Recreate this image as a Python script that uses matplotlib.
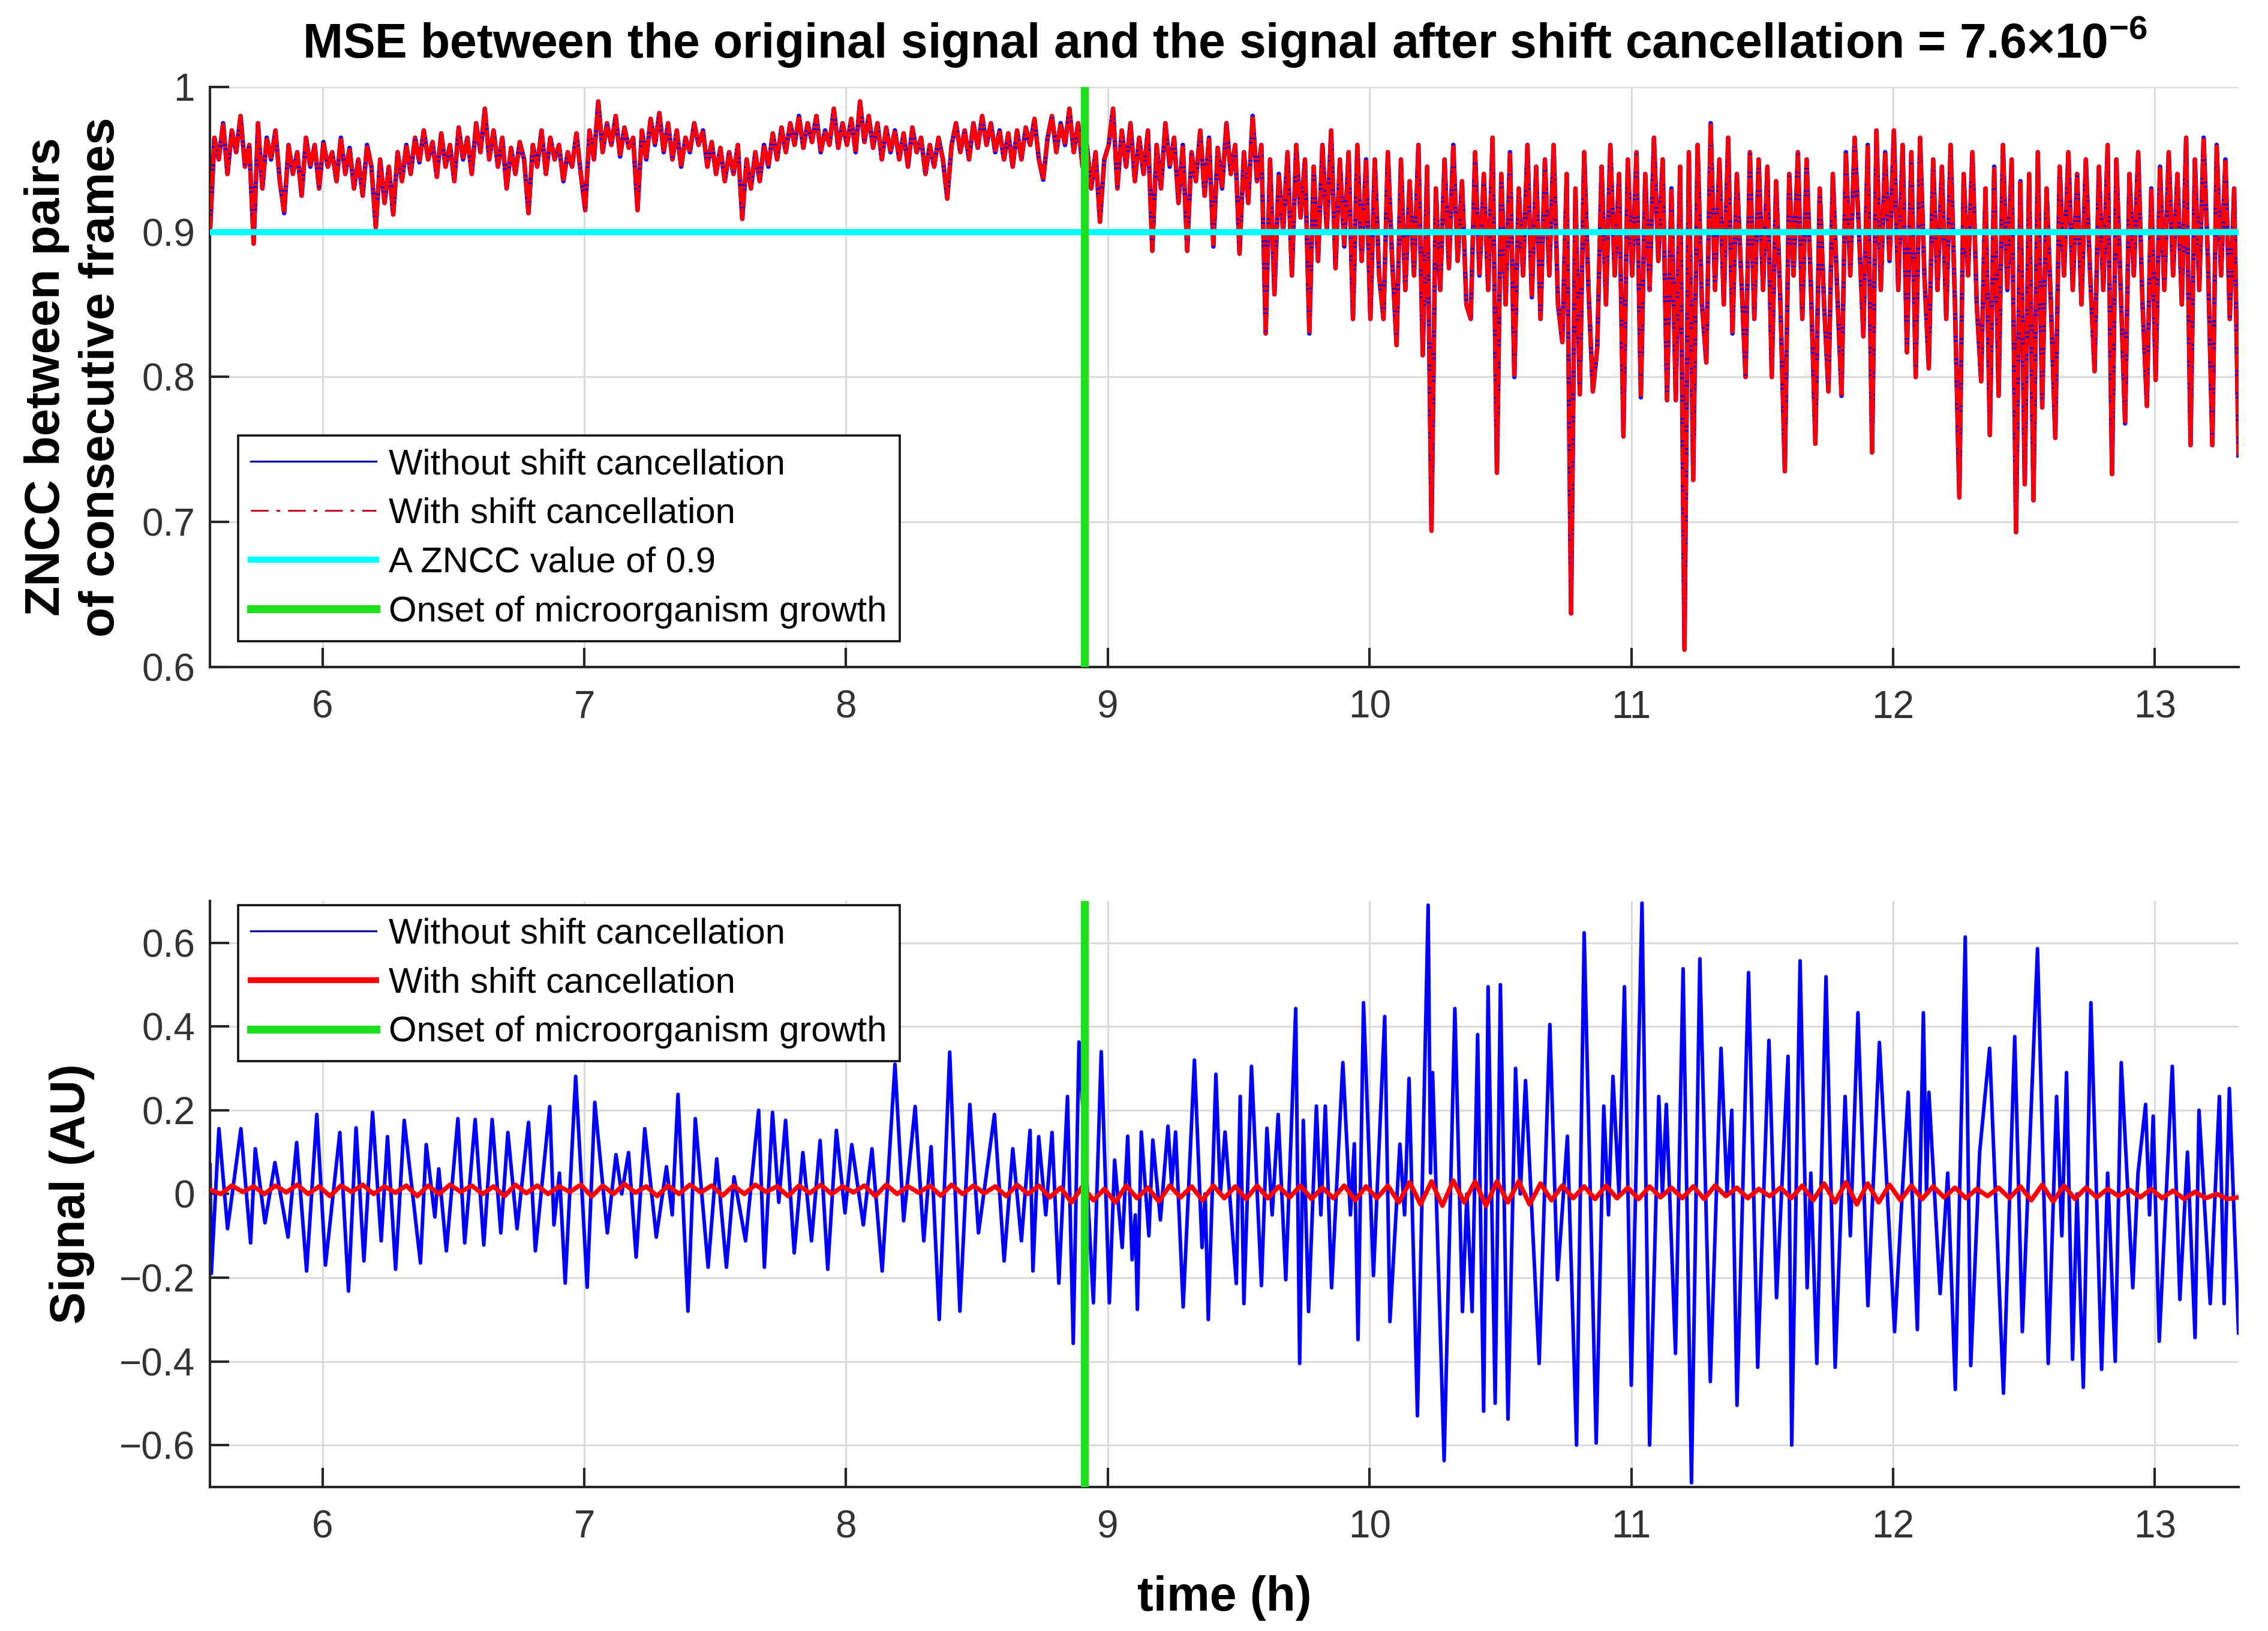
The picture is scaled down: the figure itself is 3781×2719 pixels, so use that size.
import numpy as np
import matplotlib
matplotlib.use('Agg')
import matplotlib.pyplot as plt
from matplotlib.lines import Line2D

plt.rcParams['font.family'] = ['Liberation Sans', 'DejaVu Sans']
plt.rcParams['mathtext.fontset'] = 'custom'
plt.rcParams['mathtext.rm'] = 'Liberation Sans'
plt.rcParams['mathtext.bf'] = 'Liberation Sans:bold'

# ---------------- data ----------------
T_START = 5.57          # h, first frame
ZNCC_RATE = 60          # samples per hour
SHIFT_RATE = 24         # samples per hour (shift-cancelled signal)
ONSET = 8.91            # h, onset of microorganism growth
ZNCC_LEVEL = 0.9

zncc_without = [
    # 5.57 - 5.99
    0.90, 0.965, 0.95, 0.975, 0.94, 0.97, 0.955, 0.98, 0.945, 0.96,
    0.892, 0.975, 0.93, 0.965, 0.95, 0.97, 0.935, 0.913, 0.96, 0.94,
    0.955, 0.925, 0.965, 0.945, 0.96, 0.93,
    # 6.0 - 6.99
    0.962, 0.945, 0.955, 0.935, 0.965, 0.94, 0.958, 0.93, 0.95, 0.925,
    0.96, 0.945, 0.903, 0.95, 0.92, 0.945, 0.912, 0.955, 0.935, 0.96,
    0.94, 0.965, 0.948, 0.97, 0.95, 0.962, 0.938, 0.968, 0.945, 0.96,
    0.935, 0.972, 0.95, 0.965, 0.94, 0.975, 0.955, 0.985, 0.95, 0.97,
    0.945, 0.965, 0.93, 0.958, 0.94, 0.962, 0.95, 0.913, 0.96, 0.945,
    0.97, 0.94, 0.965, 0.95, 0.96, 0.935, 0.955, 0.945, 0.968, 0.94,
    # 7.0 - 7.99
    0.915, 0.97, 0.95, 0.99, 0.955, 0.975, 0.96, 0.98, 0.952, 0.972,
    0.958, 0.965, 0.915, 0.97, 0.95, 0.978, 0.96, 0.982, 0.955, 0.975,
    0.95, 0.97, 0.945, 0.965, 0.955, 0.975, 0.96, 0.97, 0.945, 0.962,
    0.94, 0.958, 0.935, 0.955, 0.94, 0.96, 0.909, 0.95, 0.93, 0.955,
    0.935, 0.96, 0.945, 0.968, 0.95, 0.972, 0.955, 0.975, 0.96, 0.98,
    0.958, 0.975, 0.962, 0.98, 0.955, 0.97, 0.96, 0.985, 0.958, 0.975,
    # 8.0 - 8.99
    0.96, 0.978, 0.955, 0.99, 0.962, 0.98, 0.958, 0.975, 0.95, 0.972,
    0.955, 0.97, 0.95, 0.968, 0.945, 0.972, 0.955, 0.965, 0.94, 0.96,
    0.945, 0.965, 0.95, 0.923, 0.96, 0.975, 0.955, 0.97, 0.95, 0.975,
    0.958, 0.98, 0.96, 0.975, 0.955, 0.97, 0.95, 0.968, 0.945, 0.97,
    0.95, 0.972, 0.96, 0.978, 0.95, 0.936, 0.965, 0.98, 0.955, 0.975,
    0.96, 0.985, 0.955, 0.975, 0.945, 0.96, 0.93, 0.955, 0.907, 0.95,
    # 9.0 - 9.99
    0.96, 0.985, 0.93, 0.97, 0.945, 0.975, 0.935, 0.965, 0.94, 0.97,
    0.887, 0.96, 0.93, 0.975, 0.945, 0.965, 0.92, 0.96, 0.887, 0.955,
    0.935, 0.97, 0.925, 0.965, 0.89, 0.958, 0.93, 0.975, 0.94, 0.96,
    0.885, 0.955, 0.92, 0.98, 0.935, 0.96, 0.83, 0.95, 0.857, 0.94,
    0.90, 0.955, 0.87, 0.96, 0.91, 0.95, 0.83, 0.945, 0.88, 0.96,
    0.90, 0.97, 0.875, 0.95, 0.89, 0.955, 0.84, 0.96, 0.88, 0.95,
    # 10.0 - 10.99
    0.84, 0.95, 0.87, 0.84, 0.955, 0.88, 0.822, 0.95, 0.86, 0.935,
    0.87, 0.96, 0.815, 0.945, 0.694, 0.93, 0.86, 0.95, 0.875, 0.96,
    0.88, 0.935, 0.85, 0.84, 0.955, 0.87, 0.94, 0.86, 0.965, 0.734,
    0.94, 0.85, 0.955, 0.80, 0.93, 0.87, 0.96, 0.855, 0.945, 0.84,
    0.95, 0.87, 0.96, 0.85, 0.824, 0.94, 0.637, 0.93, 0.788, 0.955,
    0.86, 0.79, 0.82, 0.945, 0.85, 0.96, 0.87, 0.94, 0.759, 0.95,
    # 11.0 - 11.99
    0.87, 0.955, 0.786, 0.94, 0.86, 0.965, 0.88, 0.95, 0.784, 0.93,
    0.784, 0.945, 0.612, 0.955, 0.729, 0.96, 0.85, 0.81, 0.975, 0.86,
    0.95, 0.85, 0.965, 0.83, 0.94, 0.87, 0.80, 0.955, 0.84, 0.95,
    0.86, 0.945, 0.80, 0.935, 0.85, 0.735, 0.94, 0.87, 0.955, 0.84,
    0.95, 0.86, 0.754, 0.93, 0.85, 0.79, 0.94, 0.86, 0.787, 0.955,
    0.87, 0.965, 0.90, 0.828, 0.96, 0.748, 0.97, 0.86, 0.955, 0.88,
    # 12.0 - 12.99
    0.97, 0.86, 0.96, 0.817, 0.955, 0.80, 0.965, 0.87, 0.806, 0.95,
    0.86, 0.945, 0.84, 0.96, 0.85, 0.717, 0.94, 0.87, 0.955, 0.85,
    0.797, 0.93, 0.76, 0.945, 0.787, 0.96, 0.86, 0.95, 0.693, 0.935,
    0.726, 0.94, 0.715, 0.955, 0.779, 0.93, 0.85, 0.758, 0.945, 0.87,
    0.955, 0.86, 0.94, 0.85, 0.95, 0.87, 0.804, 0.945, 0.86, 0.96,
    0.733, 0.95, 0.86, 0.768, 0.94, 0.87, 0.955, 0.85, 0.78, 0.93,
    # 13.0 - 13.32
    0.798, 0.945, 0.86, 0.955, 0.87, 0.94, 0.85, 0.965, 0.753, 0.95,
    0.86, 0.965, 0.88, 0.753, 0.96, 0.87, 0.95, 0.84, 0.93, 0.746,
]
# after shift cancellation the ZNCC curve is visually identical
zncc_with = list(zncc_without)

# signal without shift cancellation: (time [h], value [AU]) vertices
sig_time = [
    5.570, 5.575, 5.604, 5.637, 5.688, 5.725, 5.743, 5.780, 5.818, 5.868,
    5.901, 5.939, 5.978, 6.011, 6.066, 6.099, 6.128, 6.158, 6.191, 6.224,
    6.248, 6.279, 6.312, 6.374, 6.396, 6.429, 6.444, 6.473, 6.517, 6.543,
    6.583, 6.616, 6.648, 6.681, 6.708, 6.743, 6.787, 6.813, 6.868, 6.884,
    6.905, 6.927, 6.967, 7.011, 7.040, 7.088, 7.121, 7.143, 7.169, 7.198,
    7.231, 7.275, 7.314, 7.336, 7.358, 7.396, 7.424, 7.473, 7.506, 7.543,
    7.572, 7.616, 7.666, 7.688, 7.719, 7.743, 7.769, 7.802, 7.835, 7.868,
    7.901, 7.930, 7.963, 7.996, 8.022, 8.066, 8.099, 8.138, 8.187, 8.220,
    8.264, 8.297, 8.325, 8.356, 8.396, 8.435, 8.473, 8.506, 8.567, 8.604,
    8.637, 8.670, 8.703, 8.714, 8.736, 8.763, 8.787, 8.813, 8.846, 8.868,
    8.890, 8.923, 8.945, 8.975,
    9.006, 9.026, 9.055, 9.076, 9.093, 9.105, 9.113, 9.128, 9.157, 9.172,
    9.201, 9.230, 9.244, 9.259, 9.288, 9.331, 9.360, 9.372, 9.384, 9.413,
    9.430, 9.448, 9.491, 9.506, 9.520, 9.549, 9.587, 9.608, 9.628, 9.651,
    9.680, 9.718, 9.733, 9.747, 9.767, 9.797, 9.814, 9.831, 9.855, 9.898,
    9.927, 9.942, 9.956, 9.977, 10.015, 10.058, 10.078, 10.116, 10.134, 10.151,
    10.183, 10.224, 10.233, 10.241, 10.285, 10.326, 10.355, 10.372, 10.392, 10.413,
    10.436, 10.453, 10.480, 10.500, 10.529, 10.558, 10.576, 10.596, 10.648, 10.689,
    10.718, 10.756, 10.791, 10.820, 10.866, 10.895, 10.913, 10.930, 10.953, 10.974,
    11.000, 11.041, 11.070, 11.105, 11.119, 11.134, 11.169, 11.198, 11.230, 11.262,
    11.302, 11.343, 11.366, 11.384, 11.404, 11.448, 11.483, 11.526, 11.555, 11.599,
    11.613, 11.645, 11.672, 11.686, 11.709, 11.744, 11.779, 11.817, 11.837, 11.866,
    11.904, 11.948, 12.006, 12.035, 12.058, 12.093, 12.116, 12.128, 12.137, 12.180,
    12.209, 12.238, 12.276, 12.297, 12.331, 12.369, 12.422, 12.465, 12.494, 12.552,
    12.593, 12.625, 12.645, 12.663, 12.686, 12.703, 12.727, 12.756, 12.797, 12.820,
    12.849, 12.872, 12.916, 12.936, 12.965, 12.980, 12.994, 13.017, 13.067, 13.096,
    13.125, 13.154, 13.169, 13.212, 13.247, 13.265, 13.285, 13.320, 13.330,
]
sig_without = [
    0.07, -0.19, 0.156, -0.083, 0.156, -0.117, 0.108, -0.069, 0.075, -0.103,
    0.123, -0.184, 0.19, -0.17, 0.147, -0.232, 0.158, -0.16, 0.195, -0.112,
    0.137, -0.18, 0.176, -0.165, 0.118, -0.055, 0.06, -0.136, 0.18, -0.117,
    0.178, -0.122, 0.178, -0.093, 0.147, -0.083, 0.171, -0.136, 0.209, -0.074,
    0.05, -0.213, 0.281, -0.223, 0.219, -0.093, 0.094, 0.0, 0.099, -0.151,
    0.156, -0.103, 0.065, -0.05, 0.238, -0.28, 0.18, -0.175, 0.084, -0.175,
    0.041, -0.112, 0.2, -0.175, 0.195, -0.02, 0.176, -0.141, 0.099, -0.112,
    0.128, -0.18, 0.152, -0.045, 0.118, -0.074, 0.108, -0.184, 0.31, -0.064,
    0.209, -0.112, 0.113, -0.3, 0.339, -0.28, 0.214, -0.093, 0.19, -0.16,
    0.108, -0.112, 0.152, -0.184, 0.137, -0.05, 0.147, -0.213, 0.233, -0.357,
    0.363, 0.0, -0.26, 0.34,
    -0.26, 0.081, -0.128, 0.138, -0.157, -0.05, -0.276, 0.148, -0.10, 0.129,
    -0.062, 0.162, 0.02, 0.148, -0.27, 0.32, -0.128, 0.0, -0.30, 0.286,
    0.0, 0.148, -0.214, 0.233, -0.262, 0.305, -0.219, 0.157, -0.05, 0.19,
    -0.205, 0.443, -0.405, 0.176, -0.281, 0.21, -0.05, 0.21, -0.224, 0.314,
    -0.05, 0.12, -0.348, 0.457, -0.195, 0.424, -0.305, 0.119, -0.05, 0.276,
    -0.53, 0.69, 0.05, 0.29, -0.637, 0.443, -0.281, 0.0, -0.281, 0.381,
    -0.519, 0.495, -0.50, 0.50, -0.538, 0.30, 0.0, 0.271, -0.405, 0.405,
    -0.205, 0.138, -0.60, 0.624, -0.595, 0.21, -0.05, 0.281, 0.0, 0.495,
    -0.457, 0.695, -0.60, 0.233, 0.0, 0.214, -0.381, 0.538, -0.69, 0.562,
    -0.448, 0.348, 0.0, 0.20, -0.505, 0.529, -0.414, 0.367, -0.248, 0.329,
    -0.60, 0.557, -0.224, 0.05, -0.405, 0.519, -0.414, 0.233, -0.10, 0.433,
    -0.267, 0.362, -0.329, 0.0, 0.243, -0.324, 0.433, 0.0, 0.243, -0.238,
    0.05, -0.467, 0.614, -0.41, 0.10, 0.348, -0.476, 0.376, -0.329, 0.586,
    -0.405, 0.233, -0.10, 0.29, -0.395, 0.0, -0.462, 0.457, -0.419, 0.05,
    -0.40, 0.314, -0.224, 0.05, 0.214, -0.05, 0.186, -0.352, 0.305, -0.252,
    0.10, -0.343, 0.20, -0.262, 0.233, -0.262, 0.252, -0.333, -0.18,
]

sig_with = [
    0.01, 0.0, 0.02, 0.005, 0.018, 0.0, 0.02, 0.004, 0.022, 0.0, 0.018, -0.005,
    0.02, 0.005, 0.022, 0.0, 0.018, 0.003, 0.02, -0.005, 0.02, 0.0, 0.022, 0.005,
    0.02, 0.0, 0.018, -0.005, 0.022, 0.002, 0.02, 0.0, 0.018, 0.005, 0.022, -0.006,
    0.02, 0.0, 0.024, 0.003, 0.018, -0.005, 0.02, 0.0, 0.022, 0.004, 0.02, -0.004,
    0.02, 0.0, 0.022, 0.005, 0.018, -0.005, 0.02, 0.002, 0.022, 0.0, 0.018, 0.004,
    0.02, -0.005, 0.022, 0.0, 0.018, 0.003, 0.02, -0.004, 0.022, 0.0, 0.02, 0.002,
    0.018, -0.005, 0.022, 0.0, 0.02, -0.008, 0.015, -0.02, 0.018, -0.015, 0.012, -0.02,
    0.02, -0.01, 0.015, -0.018, 0.02, -0.008, 0.018, -0.015, 0.02, -0.01, 0.018, -0.012,
    0.02, -0.01, 0.018, -0.008, 0.02, -0.012, 0.015, -0.01, 0.02, -0.015, 0.018, -0.01,
    0.02, -0.02, 0.028, -0.025, 0.03, -0.028, 0.032, -0.02, 0.03, -0.028, 0.03, -0.02,
    0.03, -0.025, 0.025, -0.015, 0.02, -0.01, 0.018, -0.012, 0.02, -0.01, 0.015, -0.012,
    0.018, -0.008, 0.015, -0.01, 0.018, -0.012, 0.02, -0.005, 0.015, -0.01, 0.012, -0.005,
    0.015, -0.01, 0.02, -0.015, 0.025, -0.02, 0.028, -0.025, 0.025, -0.02, 0.022, -0.015,
    0.02, -0.012, 0.018, -0.008, 0.015, -0.01, 0.012, -0.005, 0.015, -0.01, 0.018, -0.015,
    0.022, -0.018, 0.02, -0.012, 0.015, -0.008, 0.012, -0.005, 0.01, -0.008, 0.012, -0.01,
    0.008, -0.012, 0.005, -0.01, 0.0, -0.012, -0.008,
]

x_ticks = [6, 7, 8, 9, 10, 11, 12, 13]
top_yticks = [0.6, 0.7, 0.8, 0.9, 1.0]
top_ylabels = ['0.6', '0.7', '0.8', '0.9', '1']
bot_yticks = [-0.6, -0.4, -0.2, 0.0, 0.2, 0.4, 0.6]
bot_ylabels = ['\u22120.6', '\u22120.4', '\u22120.2', '0', '0.2', '0.4', '0.6']

t_zncc = T_START + np.arange(len(zncc_without)) / ZNCC_RATE
t_shift = T_START + np.arange(len(sig_with)) / SHIFT_RATE

# ---------------- style ----------------
BLUE = '#0000ff'
RED = '#ff0000'
CYAN = '#00ffff'
GREEN = '#1fe01f'
TICK_FS = 46
LAB_FS = 58
LEG_FS = 43

LBL_BLUE = 'Without shift cancellation'
LBL_RED = 'With shift cancellation'
LBL_CYAN = 'A ZNCC value of 0.9'
LBL_GREEN = 'Onset of microorganism growth'

fig = plt.figure(figsize=(37.81, 27.19), dpi=100)
ax1 = fig.add_axes([0.0926, 0.591, 0.8944, 0.3557])
ax2 = fig.add_axes([0.0926, 0.0883, 0.8944, 0.3593])

for ax in (ax1, ax2):
    for s in ('top', 'right'):
        ax.spines[s].set_visible(False)
    for s in ('left', 'bottom'):
        ax.spines[s].set_linewidth(3)
        ax.spines[s].set_color('#262626')
    ax.tick_params(direction='in', length=23, width=3, labelsize=TICK_FS,
                   labelcolor='#333333', color='#262626')
    ax.tick_params(axis='x', pad=27)
    ax.tick_params(axis='y', pad=18)
    ax.grid(True, color='#dadada', linewidth=2.2)
    ax.set_axisbelow(True)
    ax.set_xlim(5.57, 13.32)
    ax.set_xticks(x_ticks)
    ax.set_xticklabels([str(v) for v in x_ticks])

legend_kw = dict(fontsize=LEG_FS, handlelength=3.5, handletextpad=0.35,
                 labelspacing=0.45, borderpad=0.35, fancybox=False, framealpha=1,
                 borderaxespad=0)

# ---- top panel ----
ax1.plot(t_zncc, zncc_without, color=BLUE, lw=5.4, zorder=2)
ax1.plot(t_zncc, zncc_with, color=RED, lw=5.0, linestyle=(0, (4, 0.35, 0.7, 0.35)), zorder=3)
ax1.axhline(ZNCC_LEVEL, color=CYAN, lw=7.5, zorder=4)
ax1.axvline(ONSET, color=GREEN, lw=9.5, zorder=5)
ax1.set_ylim(0.6, 1.0)
ax1.set_yticks(top_yticks)
ax1.set_yticklabels(top_ylabels)
ax1.set_ylabel('ZNCC between pairs\nof consecutive frames', fontsize=LAB_FS + 1,
               fontweight='bold', va='center', linespacing=1.25)
ax1.yaxis.set_label_coords(-0.067, 0.5)
h1 = [Line2D([], [], color='#1010a0', lw=2.4),
      Line2D([], [], color='#c01020', lw=2.2, linestyle=(0, (9.6, 4.3, 2, 4.3))),
      Line2D([], [], color=CYAN, lw=7.5),
      Line2D([], [], color=GREEN, lw=9.5)]
leg1 = ax1.legend(h1, [LBL_BLUE, LBL_RED, LBL_CYAN, LBL_GREEN], loc='lower left',
                  bbox_to_anchor=(0.014, 0.045), **legend_kw)
leg1.get_frame().set_edgecolor('#111111')
leg1.get_frame().set_linewidth(2.6)

# ---- bottom panel ----
ax2.plot(sig_time, sig_without, color=BLUE, lw=4.3, zorder=2)
ax2.plot(t_shift, sig_with, color=RED, lw=5.5, zorder=3)
ax2.axvline(ONSET, color=GREEN, lw=9.5, zorder=5)
ax2.set_ylim(-0.7, 0.7)
ax2.set_yticks(bot_yticks)
ax2.set_yticklabels(bot_ylabels)
ax2.set_ylabel('Signal (AU)', fontsize=LAB_FS, fontweight='bold', va='center')
ax2.yaxis.set_label_coords(-0.068, 0.5)
ax2.set_xlabel('time (h)', fontsize=LAB_FS, fontweight='bold', va='center')
ax2.xaxis.set_label_coords(0.5, -0.189)
h2 = [Line2D([], [], color='#1010a0', lw=2.4),
      Line2D([], [], color=RED, lw=7),
      Line2D([], [], color=GREEN, lw=9.5)]
leg2 = ax2.legend(h2, [LBL_BLUE, LBL_RED, LBL_GREEN], loc='upper left',
                  bbox_to_anchor=(0.014, 0.993), **legend_kw)
leg2.get_frame().set_edgecolor('#111111')
leg2.get_frame().set_linewidth(2.6)

fig.text(0.54, 1 - 70 / 2719,
         'MSE between the original signal and the signal after shift cancellation = 7.6\u00d710'
         r'$^{\mathbf{-6}}$',
         ha='center', va='center', fontsize=LAB_FS, fontweight='bold')

fig.savefig('out.png', dpi=100, facecolor='white')
